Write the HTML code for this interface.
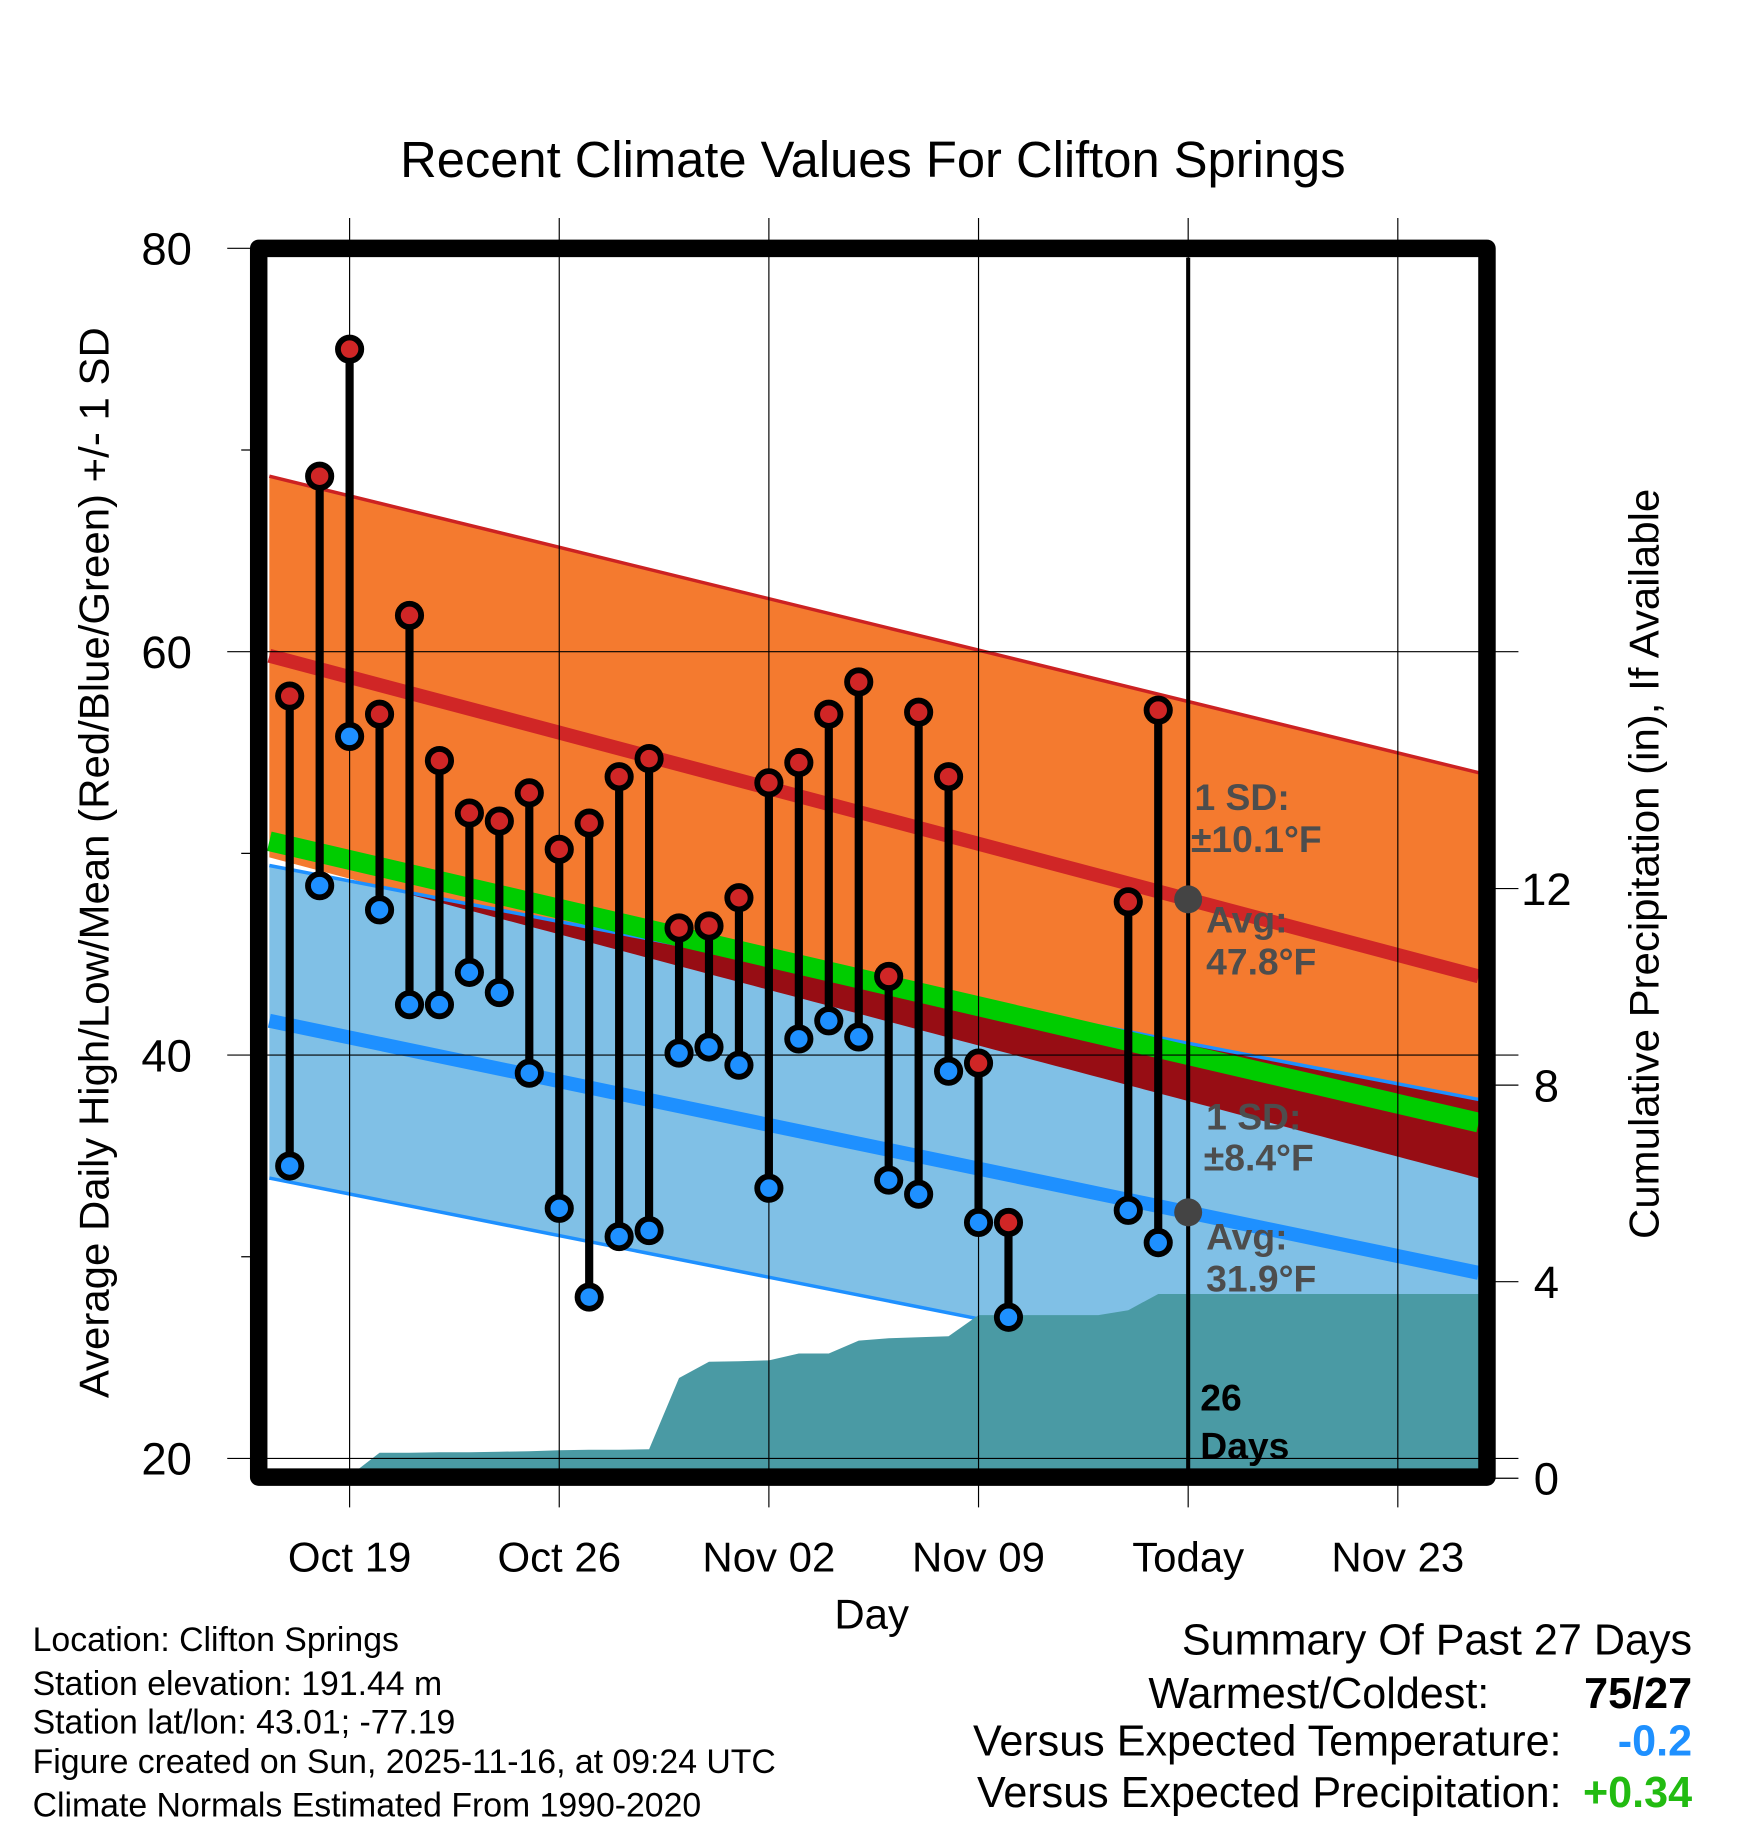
<!DOCTYPE html>
<html><head><meta charset="utf-8"><style>
html,body{margin:0;padding:0;background:#fff;}
svg{display:block;font-family:"Liberation Sans",Arial,sans-serif;}
</style></head><body>
<svg id="chart" width="1748" height="1828" viewBox="0 0 1500 1568" preserveAspectRatio="none" xmlns="http://www.w3.org/2000/svg">
<text x="749" y="152" font-size="43.5" text-anchor="middle">Recent Climate Values For Clifton Springs</text>
<g id="layer"></g>
</svg>
<script>
// ---- data ----
const tempDays = [-2,-1,0,1,2,3,4,5,6,7,8,9,10,11,12,13,14,15,16,17,18,19,20,21,22,26,27]; // days since Oct 19
const highs = [57.8,68.7,75,56.9,61.8,54.6,52.0,51.6,53.0,50.2,51.5,53.8,54.7,46.3,46.4,47.8,53.5,54.5,56.9,58.5,43.9,57.0,53.8,39.6,31.7,47.6,57.1];
const lows = [34.5,48.4,55.8,47.2,42.5,42.5,44.1,43.1,39.1,32.4,28.0,31.0,31.3,40.1,40.4,39.5,33.4,40.8,41.7,40.9,33.8,33.1,39.2,31.7,27.0,32.3,30.7];
const precipDays = [-0.1,1,2,3,4,5,6,7,8,9,10,11,12,13,14,15,16,17,18,19,20,21,22,23,24,25,26,27,37.7];
const precip = [0,0.52,0.52,0.53,0.53,0.54,0.55,0.57,0.58,0.58,0.59,2.04,2.37,2.38,2.40,2.54,2.54,2.80,2.85,2.87,2.89,3.32,3.32,3.32,3.32,3.32,3.42,3.75,3.75];
const normDays = [-2.68,37.7];
const highMean = [59.8,43.9];
const highTop = [68.7,54.0];
const highBot = [49.8,33.9];
const lowMean = [41.7,29.2];
const lowTop = [49.4,37.8];
const lowBot = [33.9,22.0];
const meanTemp = [50.6,36.65];
const xTickDays = [0,7,14,21,28,35];
const xTickLabels = ["Oct 19","Oct 26","Nov 02","Nov 09","Today","Nov 23"];
const yTicks = [80,60,40,20];
const yMinor = [70,50,30];
const pTicks = [0,4,8,12];

// ---- scales ----
const X = d => 300 + d*25.7;
const Y = v => 213 + (80-v)*17.3;
const P = p => 1268 - p*42.15;
const L = document.getElementById('layer');
const NS = 'http://www.w3.org/2000/svg';
function mk(tag, attrs, parent){const e=document.createElementNS(NS,tag);for(const k in attrs)e.setAttribute(k,attrs[k]);(parent||L).appendChild(e);return e;}
function lin(arr, d){const t=(d-normDays[0])/(normDays[1]-normDays[0]);return arr[0]+(arr[1]-arr[0])*t;}
const x0=X(normDays[0]), x1=X(normDays[1]);
function bandPts(top,bot){return `${x0},${Y(top[0])} ${x1},${Y(top[1])} ${x1},${Y(bot[1])} ${x0},${Y(bot[0])}`;}

let e;
e=mk('polygon',{points:bandPts(highTop,highBot),fill:'#f47a2f'});


e=mk('polygon',{points:bandPts(lowTop,lowBot),fill:'#80c0e6'});


{let top=[],bot=[];const N=100;for(let i=0;i<=N;i++){const d=normDays[0]+(normDays[1]-normDays[0])*i/N;const a=lin(lowTop,d),b=lin(highBot,d);const x=X(d);top.push(x+','+Y(a));bot.unshift(x+','+Y(Math.min(a,b)));}
e=mk('polygon',{points:top.concat(bot).join(' '),fill:'#970d14'});

}
function line(arr,col,w,name){const l=mk('line',{x1:x0,y1:Y(arr[0]),x2:x1,y2:Y(arr[1]),stroke:col,'stroke-width':w});

}
line(highTop,'#cc2222',3,'high-sd-top-line');
line(lowTop,'#1e90ff',3,'low-sd-top-line');
line(lowBot,'#1e90ff',3,'low-sd-bottom-line');
line(highMean,'#d02626',12,'mean-high-line');
line(lowMean,'#1e90ff',12,'mean-low-line');
line(meanTemp,'#00cc00',17,'mean-temp-line');

{let pts=precipDays.map((d,i)=>X(d)+','+P(precip[i]));pts.push(X(precipDays[precipDays.length-1])+',1260');pts.push(X(precipDays[0])+',1260');
e=mk('polygon',{points:pts.join(' '),fill:'#4a9aa4'});

}

xTickDays.forEach((d,i)=>{e=mk('line',{x1:X(d),y1:187,x2:X(d),y2:1293,stroke:'#000','stroke-width':1});


e=mk('text',{x:X(d),y:1348,'font-size':36,'text-anchor':'middle'});e.textContent=xTickLabels[i];

});
yTicks.forEach(v=>{e=mk('line',{x1:195,y1:Y(v),x2:v===80?222:1303,y2:Y(v),stroke:'#000','stroke-width':1});


e=mk('text',{x:143,y:Y(v)+14,'font-size':39,'text-anchor':'middle'});e.textContent=v;

});
yMinor.forEach(v=>{e=mk('line',{x1:207,y1:Y(v),x2:222,y2:Y(v),stroke:'#000','stroke-width':1});

});
pTicks.forEach(p=>{e=mk('line',{x1:1276,y1:P(p),x2:1303,y2:P(p),stroke:'#000','stroke-width':1});


e=mk('text',{x:1327,y:P(p)+14,'font-size':39,'text-anchor':'middle'});e.textContent=p;

});

e=mk('line',{x1:X(28),y1:221,x2:X(28),y2:1260,stroke:'#000','stroke-width':3.5});


e=mk('circle',{cx:X(28),cy:Y(lin(highMean,28)),r:12,fill:'#444'});


e=mk('circle',{cx:X(28),cy:Y(lin(lowMean,28)),r:12,fill:'#444'});



function lbl(x,y,t,col,name){const t1=mk('text',{x:x,y:y,'font-size':32,'font-weight':'bold',fill:col});t1.textContent=t;

}
lbl(1025,695,'1 SD:','#4d4d4d','high-sd-label');
lbl(1022,731,'±10.1°F','#4d4d4d','high-sd-value');
lbl(1035,800,'Avg:','#4d4d4d','avg-high-label');
lbl(1035,836,'47.8°F','#4d4d4d','avg-high-value');
lbl(1035,969,'1 SD:','#4d4d4d','low-sd-label');
lbl(1033,1004,'±8.4°F','#4d4d4d','low-sd-value');
lbl(1035,1072,'Avg:','#4d4d4d','avg-low-label');
lbl(1035,1108,'31.9°F','#4d4d4d','avg-low-value');
lbl(1030,1210,'26','#000','days-count');
lbl(1030,1251,'Days','#000','days-label');

tempDays.forEach((d,i)=>{const x=X(d);
e=mk('line',{x1:x,y1:Y(highs[i]),x2:x,y2:Y(lows[i]),stroke:'#000','stroke-width':7});


e=mk('circle',{cx:x,cy:Y(highs[i]),r:10,fill:'#d02626',stroke:'#000','stroke-width':5});


e=mk('circle',{cx:x,cy:Y(lows[i]),r:10,fill:'#1e90ff',stroke:'#000','stroke-width':5});

});

e=mk('rect',{x:222,y:213,width:1054,height:1054,fill:'none',stroke:'#000','stroke-width':15,'stroke-linejoin':'round'});


</script>
<svg style="position:absolute;left:0;top:0" width="1748" height="1828" viewBox="0 0 1500 1568" preserveAspectRatio="none" xmlns="http://www.w3.org/2000/svg" font-family="Liberation Sans, Arial, sans-serif">
<text transform="translate(93,740) rotate(-90)" font-size="36" text-anchor="middle">Average Daily High/Low/Mean (Red/Blue/Green) +/- 1 SD</text>
<text transform="translate(1423,741) rotate(-90)" font-size="36" text-anchor="middle">Cumulative Precipitation (in), If Available</text>
<text x="748" y="1397" font-size="36" text-anchor="middle">Day</text>
<g font-size="29">
<text x="28" y="1416">Location: Clifton Springs</text>
<text x="28" y="1454">Station elevation: 191.44 m</text>
<text x="28" y="1487">Station lat/lon: 43.01; -77.19</text>
<text x="28" y="1521">Figure created on Sun, 2025-11-16, at 09:24 UTC</text>
<text x="28" y="1558">Climate Normals Estimated From 1990-2020</text>
</g>
<g font-size="37">
<text x="1452" y="1419" text-anchor="end">Summary Of Past 27 Days</text>
<text x="1278" y="1465" text-anchor="end">Warmest/Coldest:</text>
<text x="1452" y="1465" text-anchor="end" font-weight="bold">75/27</text>
<text x="1340" y="1506" text-anchor="end">Versus Expected Temperature:</text>
<text x="1452" y="1506" text-anchor="end" font-weight="bold" fill="#1e90ff">-0.2</text>
<text x="1340" y="1550" text-anchor="end">Versus Expected Precipitation:</text>
<text x="1452" y="1550" text-anchor="end" font-weight="bold" fill="#22bb11">+0.34</text>
</g>
</svg>
</body></html>
